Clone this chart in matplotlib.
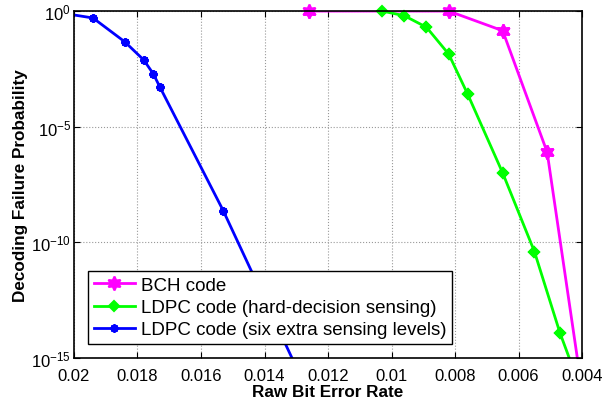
import numpy as np
import matplotlib
matplotlib.use("Agg")
from matplotlib import pyplot as plt
from matplotlib.ticker import FormatStrFormatter, FixedLocator, NullLocator

plt.rcParams['font.family'] = ['Liberation Sans', 'DejaVu Sans']

# raw bit error rate vs decoding failure probability (log10 exponents)
bch_x = [0.0126, 0.0082, 0.0065, 0.0051, 0.0040]
bch_exp = [0.0, 0.0, -0.85, -6.1, -16.4]

hard_x = [0.0103, 0.0096, 0.0089, 0.0082, 0.0076, 0.0065, 0.0055, 0.0047, 0.0040]
hard_exp = [0.0, -0.2, -0.7, -1.86, -3.6, -7.0, -10.4, -13.9, -16.5]

soft_x = [0.0205, 0.0194, 0.0184, 0.0178, 0.0175, 0.0173, 0.0153, 0.0130]
soft_exp = [-0.06, -0.3, -1.33, -2.12, -2.72, -3.27, -8.63, -15.4]

labels = ["BCH code", "LDPC code (hard-decision sensing)", "LDPC code (six extra sensing levels)"]
colors = ["#ff00ff", "#00ff00", "#0000ff"]
markers = [(6, 1, 0), "D", (8, 2, 0)]
msizes = [10, 5, 6]
mews = [1.5, 1.5, 1.5]

fig = plt.figure(figsize=(6.14, 4.02), dpi=100)
ax = fig.add_axes([0.1205, 0.107, 0.8275, 0.863])

series = [(bch_x, bch_exp), (hard_x, hard_exp), (soft_x, soft_exp)]
for (x, e), lab, c, m, ms, mw in zip(series, labels, colors, markers, msizes, mews):
    x = np.array(x)
    y = 10.0 ** np.array(e)
    ax.plot(x, y, "-", color=c, lw=2, marker=m, ms=ms, mew=mw, label=lab)
    # markers inside the box are drawn unclipped, like MATLAB does
    keep = (y >= 1e-15) & (x <= 0.02)
    ax.plot(x[keep], y[keep], ls="none", color=c, marker=m, ms=ms, mew=mw, clip_on=False)

ax.set_yscale("log")
ax.set_xlim(0.02, 0.004)
ax.set_ylim(1e-15, 1e0)
ax.set_xticks(np.arange(0.02, 0.0039, -0.002))
ax.xaxis.set_major_formatter(FormatStrFormatter('%g'))
ax.yaxis.set_major_locator(FixedLocator([1e-15, 1e-10, 1e-5, 1e0]))
ax.yaxis.set_minor_locator(NullLocator())
ax.tick_params(direction="in", top=True, right=True, labelsize=12, length=4, width=0.8)
ax.tick_params(axis="x", pad=7)
ax.tick_params(axis="y", pad=2)
for t in ax.get_yticklabels():
    t.set_verticalalignment("center_baseline")
ax.grid(True, ls=":", color="#999999", lw=0.8)
for s in ax.spines.values():
    s.set_linewidth(1.2)

ax.set_xlabel("Raw Bit Error Rate", fontsize=12.3, fontweight="bold", labelpad=1)
ax.set_ylabel("Decoding Failure Probability", fontsize=12.3, fontweight="bold", labelpad=2)

leg = ax.legend(loc="lower left", bbox_to_anchor=(0.028, 0.04), fontsize=13.5, frameon=True,
                fancybox=False, framealpha=1, edgecolor="black", borderpad=0.3,
                labelspacing=0.28, handlelength=2.2, handletextpad=0.3, borderaxespad=0)
leg.get_frame().set_linewidth(1.0)

fig.savefig("out.png", dpi=100)
